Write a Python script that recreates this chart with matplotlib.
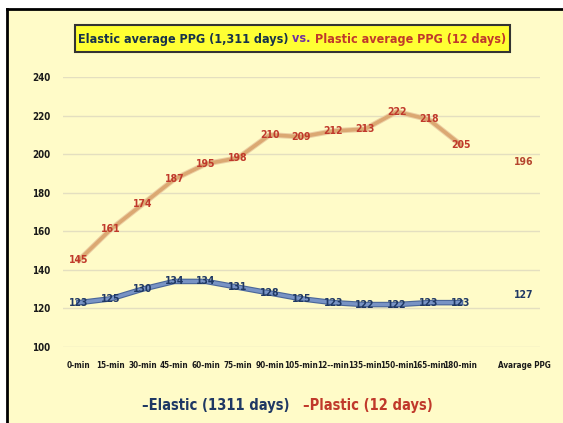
import matplotlib
matplotlib.use('Agg')
import matplotlib.pyplot as plt
import matplotlib.patheffects as pe
from matplotlib.patches import Rectangle

plt.rcParams['font.family'] = ['DejaVu Sans']
plt.rcParams['font.stretch'] = 'condensed'
plt.rcParams['font.weight'] = 'bold'

categories = ['0-min', '15-min', '30-min', '45-min', '60-min', '75-min', '90-min',
              '105-min', '12--min', '135-min', '150-min', '165-min', '180-min',
              '', 'Avarage PPG']
elastic = [123, 125, 130, 134, 134, 131, 128, 125, 123, 122, 122, 123, 123]
plastic = [145, 161, 174, 187, 195, 198, 210, 209, 212, 213, 222, 218, 205]
elastic_avg = 127
plastic_avg = 196

bg = '#fffbc8'
navy = '#1f3864'
red = '#c0392b'

fig = plt.figure(figsize=(5.63, 4.23), dpi=100)
fig.patch.set_facecolor('white')
# framed slide background
fig.patches.append(Rectangle((7 / 563, 0), 1, 1 - 9 / 423, transform=fig.transFigure,
                             facecolor=bg, edgecolor='none', zorder=-5))
fig.lines.append(plt.Line2D([7 / 563, 1], [1 - 9 / 423, 1 - 9 / 423], transform=fig.transFigure,
                            color='black', lw=2, zorder=-4))
fig.lines.append(plt.Line2D([7 / 563, 7 / 563], [0, 1 - 9 / 423], transform=fig.transFigure,
                            color='black', lw=2, zorder=-4))

ax = fig.add_axes([63 / 563, 1 - 347 / 423, 477 / 563, 270 / 423])
ax.set_facecolor('none')
x = list(range(len(elastic)))
n = len(categories)

ax.plot(x, plastic, color='#dba872', lw=2.6,
        path_effects=[pe.Stroke(linewidth=4, foreground='#ecd0a4'), pe.Normal()], zorder=3)
ax.plot(x, elastic, color='#7893c4', lw=2.4,
        path_effects=[pe.Stroke(linewidth=4, foreground='#4a6699'), pe.Normal()], zorder=3)

for xi, v in zip(x, plastic):
    ax.text(xi, v, str(v), color=red, fontsize=7.5, ha='center', va='center', zorder=4)
for xi, v in zip(x, elastic):
    ax.text(xi, v, str(v), color=navy, fontsize=7.5, ha='center', va='center', zorder=4)
ax.text(n - 1, plastic_avg, str(plastic_avg), color='#b5452e', fontsize=7.5, ha='center', va='center')
ax.text(n - 1, elastic_avg, str(elastic_avg), color=navy, fontsize=7.5, ha='center', va='center')

ax.set_xlim(-0.5, n - 0.5)
ax.set_ylim(100, 240)
ax.set_yticks(range(100, 241, 20))
ax.set_xticks(range(n))
ax.set_xticklabels(categories)
ax.tick_params(axis='x', length=0, labelsize=5.9, colors='#1a1a1a', pad=10)
ax.tick_params(axis='y', length=0, labelsize=7, colors='#1a1a1a', pad=9)
ax.grid(axis='y', color='#e4dfc0', lw=1)
ax.set_axisbelow(True)
for s in ax.spines.values():
    s.set_visible(False)

# title box with three coloured parts
fig.patches.append(Rectangle((75 / 563, 1 - 52 / 423), 435 / 563, 27 / 423, transform=fig.transFigure,
                             facecolor='#ffff33', edgecolor='#333333', lw=1.5, zorder=1))
parts = [('Elastic average PPG (1,311 days) ', '#17324a'),
         ('vs. ', '#7030a0'),
         ('Plastic average PPG (12 days)', red)]
renderer = fig.canvas.get_renderer()
texts = []
for s, c in parts:
    t = fig.text(0, 1 - 39 / 423, s, color=c, fontsize=9, va='center', ha='left', zorder=2)
    texts.append(t)
widths = [t.get_window_extent(renderer).width for t in texts]
start = 292 - sum(widths) / 2
for t, w in zip(texts, widths):
    t.set_x(start / 563)
    start += w

# legend as text
fig.text(216 / 563, 1 - 405 / 423, '–Elastic (1311 days)', color=navy, fontsize=10.5,
         ha='center', va='center')
fig.text(368 / 563, 1 - 405 / 423, '–Plastic (12 days)', color=red, fontsize=10.5,
         ha='center', va='center')

fig.savefig('out.png', dpi=100, facecolor=fig.get_facecolor())
